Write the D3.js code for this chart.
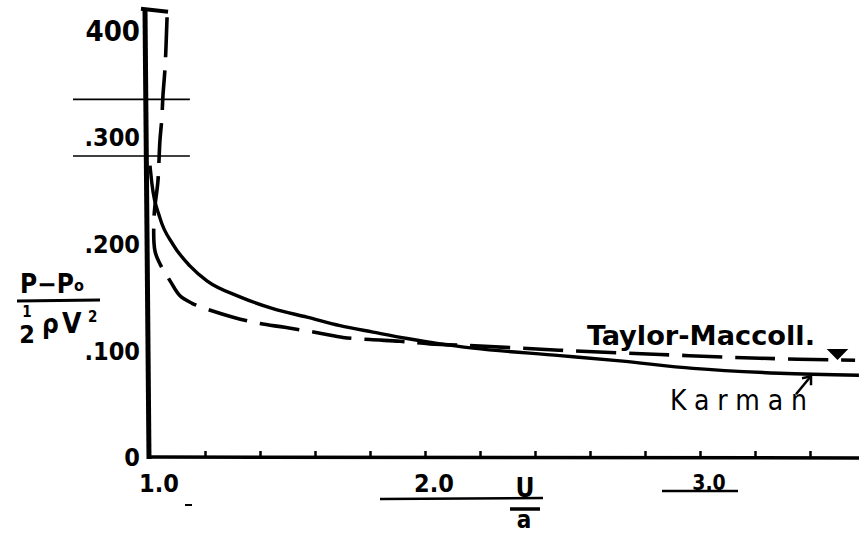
<!DOCTYPE html>
<html>
<head>
<meta charset="utf-8">
<script src="https://cdn.jsdelivr.net/npm/d3@7/dist/d3.min.js"></script>
<style>
  html, body { margin: 0; padding: 0; background: #fff; }
  svg { display: block; }
  text { font-family: "Liberation Sans Narrow", "DejaVu Sans Condensed", "DejaVu Sans", sans-serif; font-weight: bold; fill: #000; }
</style>
</head>
<body>
<svg id="chart" width="859" height="534"></svg>
<script>
// ---- data ----
// Karman (solid line): u/a , (P-Po)/(1/2 rho V^2)
const karmanU  = [1.000, 1.007, 1.036, 1.084, 1.145, 1.207, 1.327, 1.447, 1.571, 1.691, 1.811, 1.935, 2.055, 2.175, 2.491, 2.709, 2.975, 3.290, 3.578];
const karmanCp = [0.273, 0.256, 0.224, 0.199, 0.179, 0.165, 0.150, 0.139, 0.131, 0.123, 0.117, 0.111, 0.106, 0.102, 0.095, 0.090, 0.083, 0.0785, 0.0766];
// Taylor-Maccoll (dashed line)
const taylorU  = [1.062, 1.055, 1.047, 1.043, 1.036, 1.029, 1.015, 1.018, 1.036, 1.073, 1.109, 1.153, 1.225, 1.302, 1.400, 1.490, 1.618, 1.702, 1.800, 1.909, 2.018, 2.200, 2.490, 2.855, 3.218, 3.564];
const taylorCp = [0.412, 0.366, 0.338, 0.317, 0.296, 0.259, 0.226, 0.193, 0.181, 0.165, 0.151, 0.144, 0.137, 0.131, 0.125, 0.1215, 0.116, 0.112, 0.110, 0.1084, 0.106, 0.104, 0.100, 0.096, 0.0925, 0.0906];
// axis ticks
const yTickValues = [0, 0.1, 0.2, 0.3, 0.4];
const yTickLabels = ["0", ".100", ".200", ".300", "400"];
const xTickValues = [1, 2, 3];
const xTickLabels = ["1.0", "2.0", "3.0"];
const xMinorTicks = [1.2, 1.4, 1.6, 1.8, 2.0, 2.2, 2.4, 2.6, 2.8, 3.0, 3.2, 3.4];
// stray horizontal rules crossing the ordinate
const ruleValues = [0.335, 0.282];

// ---- drawing ----
const svg = d3.select("#chart");
svg.append("rect").attr("width", 859).attr("height", 534).attr("fill", "#fff");

const x = d3.scaleLinear().domain([1, 3.6]).range([150, 865]);
const y = d3.scaleLinear().domain([0, 0.4]).range([457, 30]);

// stray rules
svg.selectAll("line.rule").data(ruleValues).join("line")
  .attr("class", "rule")
  .attr("x1", x(0.72)).attr("x2", x(1.145))
  .attr("y1", d => y(d)).attr("y2", d => y(d))
  .attr("stroke", "#000").attr("stroke-width", 1.6);

// x axis (minor ticks pointing up)
const xAxis = d3.axisBottom(x).tickValues(xMinorTicks).tickSize(-6).tickFormat("");
const gx = svg.append("g").attr("transform", `translate(0,${y(0)})`).call(xAxis);
gx.select(".domain").remove();
gx.selectAll(".tick line").attr("stroke", "#000").attr("stroke-width", 2.5);
svg.append("line")
  .attr("x1", x(1)).attr("x2", 859)
  .attr("y1", y(0)).attr("y2", y(0) + 1)
  .attr("stroke", "#000").attr("stroke-width", 3.5);

// y axis
const yAxis = d3.axisLeft(y).tickValues(yTickValues)
  .tickFormat((d, i) => yTickLabels[i]).tickSize(0).tickPadding(10);
const gy = svg.append("g").attr("transform", `translate(${x(1)},0)`).call(yAxis);
gy.select(".domain").remove();
gy.selectAll(".tick text")
  .style("font-size", (d, i) => i === 4 ? "29px" : "25px")
  .attr("dy", "0.35em")
  .style("font-family", '"Liberation Sans Narrow", "DejaVu Sans Condensed", sans-serif')
  .style("font-weight", "bold");
svg.append("line")
  .attr("x1", x(1) - 5).attr("x2", x(1) - 1)
  .attr("y1", y(0.419)).attr("y2", y(0) + 2)
  .attr("stroke", "#000").attr("stroke-width", 5);

// top bracket
svg.append("line")
  .attr("x1", x(1) - 9).attr("x2", x(taylorU[0]) + 1)
  .attr("y1", y(0.42)).attr("y2", y(0.417))
  .attr("stroke", "#000").attr("stroke-width", 4);

// x labels
svg.selectAll("text.xl").data(xTickValues).join("text")
  .attr("class", "xl")
  .attr("x", d => x(d) + 9)
  .attr("y", (d, i) => i === 2 ? 490 : 492)
  .attr("text-anchor", "middle")
  .style("font-size", (d, i) => i === 2 ? "21px" : "25px")
  .text((d, i) => xTickLabels[i]);
// underlines
svg.append("line").attr("x1", x(2) - 45).attr("x2", x(2) + 118)
  .attr("y1", 499).attr("y2", 498).attr("stroke", "#000").attr("stroke-width", 2.5);
svg.append("line").attr("x1", x(3) - 38).attr("x2", x(3) + 38)
  .attr("y1", 491).attr("y2", 491).attr("stroke", "#000").attr("stroke-width", 2.5);
svg.append("line").attr("x1", 185).attr("x2", 192)
  .attr("y1", 505).attr("y2", 505).attr("stroke", "#000").attr("stroke-width", 2);

// U / a
svg.append("text").attr("x", 525).attr("y", 497).attr("text-anchor", "middle")
  .style("font-size", "26px").text("U");
svg.append("line").attr("x1", 510).attr("x2", 540).attr("y1", 509).attr("y2", 509)
  .attr("stroke", "#000").attr("stroke-width", 3.5);
svg.append("text").attr("x", 524).attr("y", 528).attr("text-anchor", "middle")
  .style("font-size", "24px").text("a");

// y label (P - Po) / (1/2 rho V^2)
const yl = svg.append("g");
yl.append("text").attr("x", 20).attr("y", 293).style("font-size", "26px")
  .text("P−P").append("tspan").attr("dy", "-2").style("font-size", "16px").text("o");
yl.append("line").attr("x1", 17).attr("x2", 100).attr("y1", 301).attr("y2", 300)
  .attr("stroke", "#000").attr("stroke-width", 3);
yl.append("text").attr("x", 27).attr("y", 317).attr("text-anchor", "middle")
  .style("font-size", "15px").text("1");
yl.append("text").attr("x", 27).attr("y", 343).attr("text-anchor", "middle")
  .style("font-size", "25px").text("2");
yl.append("text").attr("x", 42).attr("y", 333).style("font-size", "26px").text("ρ");
yl.append("text").attr("x", 62).attr("y", 333).style("font-size", "28px").text("V");
yl.append("text").attr("x", 88).attr("y", 322).style("font-size", "15px").text("2");

// curves
const lineT = d3.line().x(d => x(d[0])).y(d => y(d[1])).curve(d3.curveCatmullRom.alpha(0.5));
const lineK = d3.line().x(d => x(d[0])).y(d => y(d[1])).curve(d3.curveMonotoneX);
const karman = karmanU.map((u, i) => [u, karmanCp[i]]);
const taylor = taylorU.map((u, i) => [u, taylorCp[i]]);

svg.append("path").attr("d", lineT(taylor))
  .attr("fill", "none").attr("stroke", "#000").attr("stroke-width", 3.6)
  .attr("stroke-dasharray", "40,13");
svg.append("path").attr("d", lineK(karman))
  .attr("fill", "none").attr("stroke", "#000").attr("stroke-width", 3.4);

// labels
svg.append("text").attr("x", 587).attr("y", 345)
  .attr("textLength", 228).attr("lengthAdjust", "spacingAndGlyphs")
  .style("font-size", "27px").text("Taylor-Maccoll.");
svg.append("text").attr("x", 670).attr("y", 410)
  .attr("textLength", 137).attr("lengthAdjust", "spacing")
  .style("font-size", "28px").style("font-weight", "normal").text("Karman");

// arrows
const ka = [x(3.4) , y(0.0775)];
svg.append("line").attr("x1", ka[0] - 14).attr("y1", ka[1] + 20).attr("x2", ka[0]).attr("y2", ka[1] + 3)
  .attr("stroke", "#000").attr("stroke-width", 2.5);
svg.append("path")
  .attr("d", `M${ka[0]-8},${ka[1]+4} L${ka[0]+1},${ka[1]+2} L${ka[0]+1},${ka[1]+11}`)
  .attr("fill", "none").attr("stroke", "#000").attr("stroke-width", 2.5);
const ta = [x(3.5), y(0.091)];
svg.append("path")
  .attr("d", `M${ta[0]-9},${ta[1]-10} L${ta[0]+9},${ta[1]-10} L${ta[0]},${ta[1]-1} Z`)
  .attr("fill", "#000").attr("stroke", "#000").attr("stroke-width", 1.5);
</script>
</body>
</html>
